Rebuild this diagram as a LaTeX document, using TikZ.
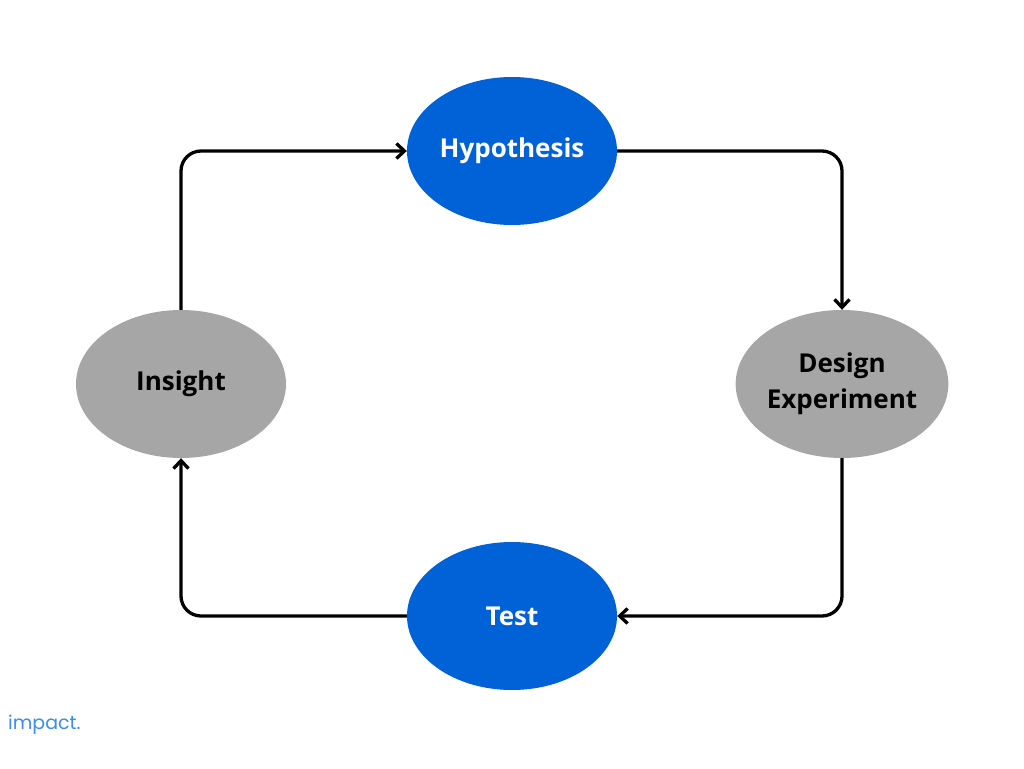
\documentclass[tikz,border=0pt]{standalone}
\usepackage{fontspec}
\setmainfont{Open Sans}
\newfontfamily\logofont{Poppins}
\usetikzlibrary{arrows.meta,shapes.geometric}
\definecolor{nodeblue}{HTML}{0062D6}
\definecolor{nodegray}{HTML}{A6A6A6}
\definecolor{logoblue}{HTML}{3D8BF2}
\begin{document}
\begin{tikzpicture}[x=1pt,y=-1pt,
  ell/.style={ellipse,minimum width=210pt,minimum height=148pt,inner sep=0pt,font=\bfseries\fontsize{26}{36}\selectfont,align=center},
  bluenode/.style={ell,fill=nodeblue,text=white},
  graynode/.style={ell,fill=nodegray,text=black},
  conn/.style={line width=3.3pt,rounded corners=20pt,-{Straight Barb[length=8pt,width=15pt,line width=3.3pt]}}
]
\useasboundingbox (0,0) rectangle (1024,768);
\node[bluenode] (hyp) at (512,151) {Hypothesis};
\node[graynode] (des) at (842,384) {Design\\Experiment};
\node[bluenode] (test) at (512,616) {Test};
\node[graynode] (ins) at (181,384) {Insight};
\draw[conn] (hyp.east) -| (des.north);
\draw[conn] (des.south) |- (test.east);
\draw[conn] (test.west) -| (ins.south);
\draw[conn] (ins.north) |- (hyp.west);
\node[anchor=base west,inner sep=0pt,text=logoblue,font=\logofont\fontsize{19}{20}\selectfont] (logo) at (8,729) {impact.};
\end{tikzpicture}
\end{document}
